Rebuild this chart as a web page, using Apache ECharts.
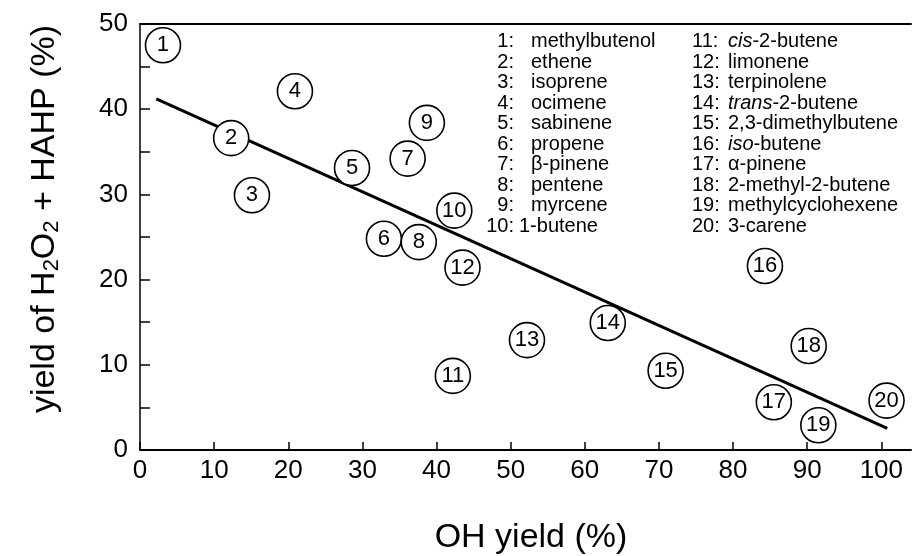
<!DOCTYPE html>
<html>
<head>
<meta charset="utf-8">
<script src="https://cdn.jsdelivr.net/npm/echarts@6/dist/echarts.min.js"></script>
<style>
html,body{margin:0;padding:0;background:#fff;}
#c{width:912px;height:556px;}
</style>
</head>
<body>
<div id="c"></div>
<script>
// ---- data ----
const pointIds = ['1','2','3','4','5','6','7','8','9','10','11','12','13','14','15','16','17','18','19','20'];
const ohYield = [3.1, 12.3, 15.1, 20.9, 28.6, 32.9, 36.1, 37.6, 38.7, 42.4, 42.2, 43.5, 52.2, 63.1, 70.9, 84.3, 85.5, 90.2, 91.5, 100.7];
const peroxideYield = [47.5, 36.6, 29.9, 42.1, 33.1, 24.8, 34.2, 24.4, 38.4, 28.1, 8.7, 21.4, 12.9, 14.9, 9.3, 21.6, 5.6, 12.2, 2.9, 5.8];
const fitX = [2.2, 100.8];
const fitY = [41.2, 2.55];
const xTickLabels = [0, 10, 20, 30, 40, 50, 60, 70, 80, 90, 100];
const yTickLabels = [0, 10, 20, 30, 40, 50];
const yMinorTicks = [0, 5, 10, 15, 20, 25, 30, 35, 40, 45, 50];
const legendCol1Names = ['methylbutenol','ethene','isoprene','ocimene','sabinene','propene','β-pinene','pentene','myrcene','1-butene'];
const legendCol2Names = ['cis-2-butene','limonene','terpinolene','trans-2-butene','2,3-dimethylbutene','iso-butene','α-pinene','2-methyl-2-butene','methylcyclohexene','3-carene'];
const italicPrefixed = ['cis-2-butene','trans-2-butene','iso-butene'];

// ---- chart ----
const FONT = '"Liberation Sans", Arial, Helvetica, sans-serif';
const chart = echarts.init(document.getElementById('c'), null, {renderer: 'canvas'});

const scatterData = ohYield.map((x, i) => [x, peroxideYield[i], pointIds[i]]);
const fitData = fitX.map((x, i) => [x, fitY[i]]);

const graphics = [];
// y axis title
graphics.push({
  type: 'text',
  x: 45, y: 219,
  rotation: Math.PI / 2,
  style: {
    text: '{a|yield of H}{s|2}{a|O}{s|2}{a| + HAHP (%)}',
    textAlign: 'center',
    textVerticalAlign: 'middle',
    fill: '#000',
    rich: {
      a: {fontFamily: FONT, fontSize: 34, lineHeight: 36, fill: '#000', color: '#000', verticalAlign: 'middle'},
      s: {fontFamily: FONT, fontSize: 22, lineHeight: 14, fill: '#000', color: '#000', verticalAlign: 'bottom'}
    }
  }
});
// x axis title
graphics.push({
  type: 'text',
  x: 531, y: 538,
  style: {
    text: 'OH yield (%)',
    font: '34px ' + FONT,
    fill: '#000',
    textAlign: 'center',
    textVerticalAlign: 'middle'
  }
});

// legend (key of numbered circles)
const rowTop = 41.5, rowGap = 20.5;
const col1Colon = 514, col1Name = 531;
const col2Num = 692, col2Name = 728;
const LFS = 20;
const legFont = LFS + 'px ' + FONT;
legendCol1Names.forEach((nm, i) => {
  const y = rowTop + i * rowGap;
  const num = pointIds[i] + ':';
  graphics.push({type: 'text', x: col1Colon, y: y, style: {text: num, font: legFont, fill: '#000', textAlign: 'right', textVerticalAlign: 'middle'}});
  graphics.push({type: 'text', x: (i < 9 ? col1Name : col1Colon + 5), y: y, style: {text: nm, font: legFont, fill: '#000', textAlign: 'left', textVerticalAlign: 'middle'}});
});
legendCol2Names.forEach((nm, i) => {
  const y = rowTop + i * rowGap;
  const num = pointIds[i + 10] + ':';
  graphics.push({type: 'text', x: col2Num, y: y, style: {text: num, font: legFont, fill: '#000', textAlign: 'left', textVerticalAlign: 'middle'}});
  let txt;
  if (italicPrefixed.indexOf(nm) >= 0) {
    const k = nm.indexOf('-');
    txt = '{i|' + nm.slice(0, k) + '}{n|' + nm.slice(k) + '}';
  } else {
    txt = '{n|' + nm + '}';
  }
  graphics.push({type: 'text', x: col2Name, y: y, style: {
    text: txt, textAlign: 'left', textVerticalAlign: 'middle', fill: '#000',
    rich: {
      i: {fontFamily: FONT, fontSize: LFS, fontStyle: 'italic', fill: '#000', color: '#000'},
      n: {fontFamily: FONT, fontSize: LFS, fill: '#000', color: '#000'}
    }
  }});
});

const option = {
  backgroundColor: '#fff',
  animation: false,
  textStyle: {fontFamily: FONT},
  grid: {left: 140, top: 24, right: 1, bottom: 106, containLabel: false},
  xAxis: [{
    type: 'value', min: 0, max: 104, interval: 10,
    axisLine: {show: true, onZero: false, lineStyle: {color: '#000', width: 2}},
    axisTick: {show: true, inside: true, length: 8, lineStyle: {color: '#000', width: 1.5}, customValues: xTickLabels},
    axisLabel: {show: true, color: '#000', fontSize: 26, fontFamily: FONT, margin: 8, customValues: xTickLabels},
    splitLine: {show: false}
  }, {
    type: 'value', position: 'top', min: 0, max: 104,
    axisLine: {show: true, onZero: false, lineStyle: {color: '#000', width: 2}},
    axisTick: {show: false}, axisLabel: {show: false}, splitLine: {show: false}
  }],
  yAxis: [{
    type: 'value', min: 0, max: 50, interval: 10,
    axisLine: {show: true, onZero: false, lineStyle: {color: '#000', width: 1.5}},
    axisTick: {show: true, inside: true, length: 10, lineStyle: {color: '#000', width: 1.5}, customValues: yMinorTicks},
    axisLabel: {show: true, color: '#000', fontSize: 26, fontFamily: FONT, margin: 12, customValues: yTickLabels},
    splitLine: {show: false}
  }],
  series: [{
    type: 'line',
    data: fitData,
    symbol: 'none',
    lineStyle: {color: '#000', width: 3},
    z: 2,
    silent: true
  }, {
    type: 'scatter',
    data: scatterData,
    symbol: 'circle',
    symbolSize: 35,
    itemStyle: {color: '#fff', borderColor: '#000', borderWidth: 1.6, opacity: 1},
    label: {
      show: true, position: 'inside', color: '#000', fontSize: 22, fontFamily: FONT,
      formatter: p => p.data[2]
    },
    z: 5
  }],
  graphic: {elements: graphics}
};
chart.setOption(option);
</script>
</body>
</html>
